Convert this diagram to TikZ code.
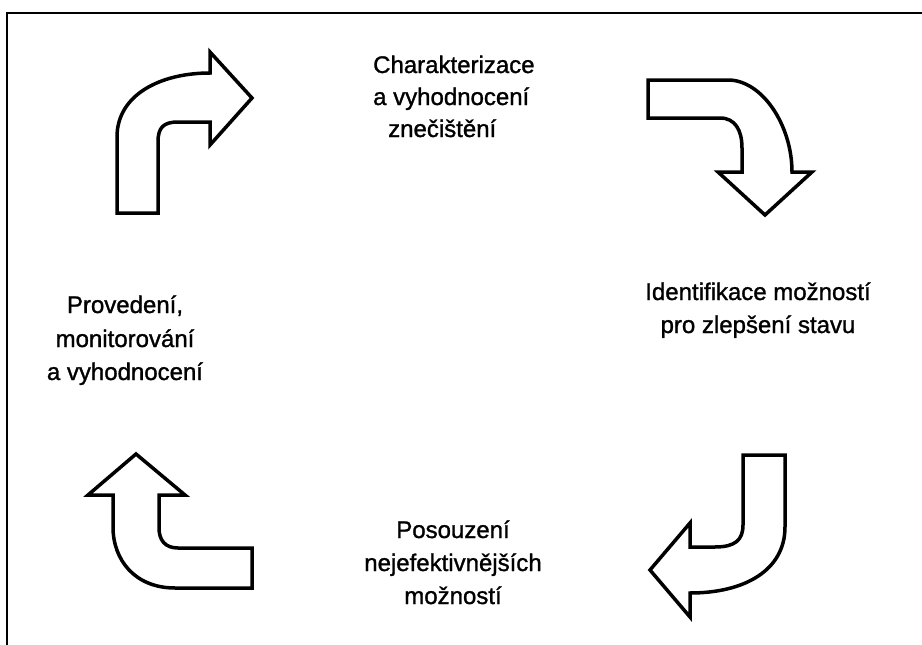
\documentclass[tikz,border=0pt]{standalone}
\usepackage{fontspec}
\setmainfont{Liberation Sans}[FakeBold=1.2]
\begin{document}
\begin{tikzpicture}[x=1pt,y=-1pt,
  bentarrow/.style={draw=black,fill=white,line width=3.5pt,line join=miter},
  label/.style={font=\fontsize{24}{33}\selectfont,inner sep=0pt,anchor=base},
  labelleft/.style={label,anchor=base west}]
\useasboundingbox (0,0) rectangle (922,645);
\fill[white] (0,0) rectangle (922,645);

% outer frame (runs off the right and bottom edges)
\draw[line width=2.5pt] (922,13) -- (7,13) -- (7,645);

% bent arrow, top left: up then right
\draw[bentarrow] (117,213) -- (117,137)
  .. controls (117,95) and (160,73) .. (210,73)
  -- (210,52) -- (252,98) -- (210,145) -- (210,122) -- (178,122)
  .. controls (163,122) and (158,128) .. (158,142)
  -- (158,213) -- cycle;

% bent arrow, top right: right then down
\draw[bentarrow] (648,80) -- (728,80)
  .. controls (762,80) and (792,125) .. (792,172)
  -- (812,172) -- (765,215) -- (718,172) -- (742,172) -- (742,148)
  .. controls (742,130) and (735,118) .. (720,118)
  -- (648,118) -- cycle;

% bent arrow, bottom right: down then left
\draw[bentarrow] (743,455) -- (785,455) -- (785,527)
  .. controls (785,570) and (745,593) .. (690,593)
  -- (690,617) -- (650,570) -- (690,523) -- (690,547) -- (715,547)
  .. controls (735,547) and (743,540) .. (743,525)
  -- cycle;

% bent arrow, bottom left: left then up
\draw[bentarrow] (136,454) -- (185,495) -- (159,495) -- (159,528)
  .. controls (159,540) and (165,548) .. (178,548)
  -- (252,548) -- (252,588) -- (175,588)
  .. controls (135,588) and (113,560) .. (113,527)
  -- (113,495) -- (88,495) -- cycle;

% step labels
\node[labelleft] (c1) at (373,73)  {Charakterizace};
\node[labelleft] (c2) at (373,105) {a vyhodnocení};
\node[labelleft] (c3) at (388,137) {znečištění};

\node[label] (i1) at (758,300) {Identifikace možností};
\node[label] (i2) at (758,333) {pro zlepšení stavu};

\node[label] (p1) at (453,538) {Posouzení};
\node[label] (p2) at (453,571) {nejefektivnějších};
\node[label] (p3) at (453,604) {možností};

\node[label] (m1) at (125,313) {Provedení,};
\node[label] (m2) at (125,347) {monitorování};
\node[label] (m3) at (125,380) {a vyhodnocení};
\end{tikzpicture}
\end{document}
